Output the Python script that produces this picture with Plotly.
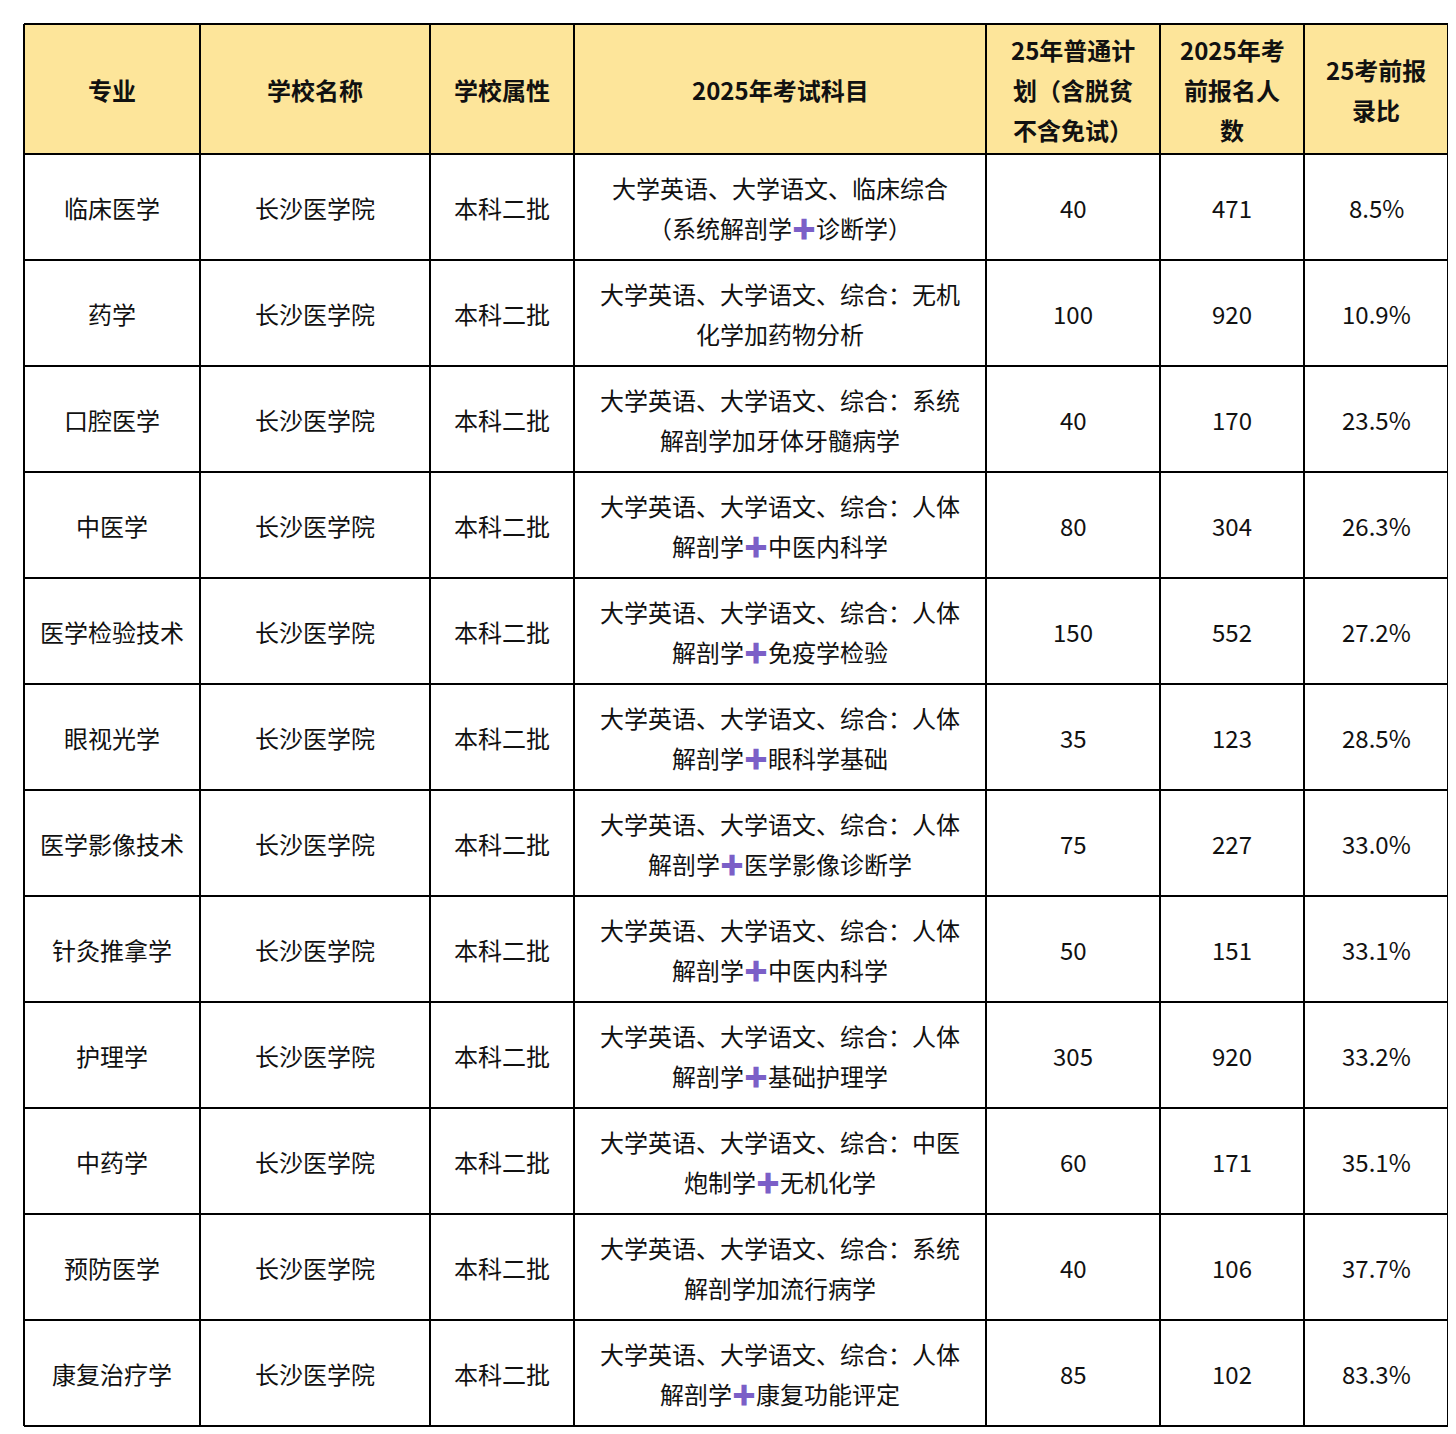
import plotly.graph_objects as go

headers = ["专业", "学校名称", "学校属性", "2025年考试科目",
           "25年普通计<br>划（含脱贫<br>不含免试）", "2025年考<br>前报名人<br>数", "25考前报<br>录比"]

majors = ["临床医学", "药学", "口腔医学", "中医学", "医学检验技术", "眼视光学",
          "医学影像技术", "针灸推拿学", "护理学", "中药学", "预防医学", "康复治疗学"]
school = "长沙医学院"
level = "本科二批"
P = "<span style='color:#7b5fc7'><b>✚</b></span>"
subjects = [
    "大学英语、大学语文、临床综合<br>（系统解剖学" + P + "诊断学）",
    "大学英语、大学语文、综合：无机<br>化学加药物分析",
    "大学英语、大学语文、综合：系统<br>解剖学加牙体牙髓病学",
    "大学英语、大学语文、综合：人体<br>解剖学" + P + "中医内科学",
    "大学英语、大学语文、综合：人体<br>解剖学" + P + "免疫学检验",
    "大学英语、大学语文、综合：人体<br>解剖学" + P + "眼科学基础",
    "大学英语、大学语文、综合：人体<br>解剖学" + P + "医学影像诊断学",
    "大学英语、大学语文、综合：人体<br>解剖学" + P + "中医内科学",
    "大学英语、大学语文、综合：人体<br>解剖学" + P + "基础护理学",
    "大学英语、大学语文、综合：中医<br>炮制学" + P + "无机化学",
    "大学英语、大学语文、综合：系统<br>解剖学加流行病学",
    "大学英语、大学语文、综合：人体<br>解剖学" + P + "康复功能评定",
]
plan = [40, 100, 40, 80, 150, 35, 75, 50, 305, 60, 40, 85]
applicants = [471, 920, 170, 304, 552, 123, 227, 151, 920, 171, 106, 102]
ratio = ["8.5%", "10.9%", "23.5%", "26.3%", "27.2%", "28.5%",
         "33.0%", "33.1%", "33.2%", "35.1%", "37.7%", "83.3%"]

# table geometry in pixels (axes map 1:1 to pixels)
col_edges = [16, 192, 422, 566, 978, 1152, 1296, 1440]
top, header_h, row_h = 16, 130, 106
line_gap = 40
font = "Noto Sans CJK SC"

n = len(majors)
rows = [[m, school, level, s, str(p), str(a), r]
        for m, s, p, a, r in zip(majors, subjects, plan, applicants, ratio)]
bottom = top + header_h + n * row_h

fig = go.Figure()
fig.add_shape(type="rect", x0=col_edges[0], x1=col_edges[-1], y0=top, y1=top + header_h,
              fillcolor="#fde59a", line_width=0, layer="below")

def put(text, xc, yc, bold=False):
    lines = text.split("<br>")
    k = len(lines)
    for i, ln in enumerate(lines):
        fig.add_annotation(x=xc, y=yc + (i - (k - 1) / 2) * line_gap,
                           text="<b>" + ln + "</b>" if bold else ln,
                           showarrow=False, xanchor="center", yanchor="middle",
                           font=dict(family=font, size=24, color="#111"))

centers = [(col_edges[j] + col_edges[j + 1]) / 2 for j in range(len(col_edges) - 1)]
for j, h in enumerate(headers):
    put(h, centers[j], top + header_h / 2, bold=True)
for i, row in enumerate(rows):
    yc = top + header_h + i * row_h + row_h / 2
    for j, v in enumerate(row):
        put(v, centers[j], yc)

# grid lines
for x in col_edges:
    fig.add_shape(type="line", x0=x, x1=x, y0=top, y1=bottom, line=dict(color="black", width=2))
for y in [top] + [top + header_h + i * row_h for i in range(n + 1)]:
    fig.add_shape(type="line", x0=col_edges[0], x1=col_edges[-1], y0=y, y1=y,
                  line=dict(color="black", width=2))

fig.update_xaxes(range=[0, 1456], visible=False, fixedrange=True)
fig.update_yaxes(range=[1434, 0], visible=False, fixedrange=True)
fig.update_layout(width=1456, height=1434, margin=dict(l=0, r=0, t=0, b=0),
                  paper_bgcolor="white", plot_bgcolor="white", showlegend=False)
fig.write_html("out.html")
